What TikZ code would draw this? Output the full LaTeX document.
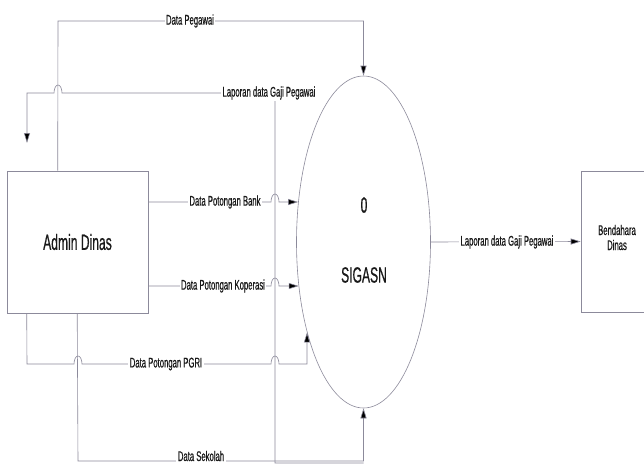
\documentclass[tikz,border=0pt]{standalone}
\usepackage{fontspec}
\usepackage{tikz}
\usetikzlibrary{shapes.geometric, positioning, arrows.meta, calc}
\newfontfamily\narrowfont[FakeStretch=0.55, FakeBold=0.6]{Liberation Sans}
\definecolor{linegray}{RGB}{140, 138, 155}
\definecolor{textblack}{RGB}{25, 25, 25}

\begin{document}
\begin{tikzpicture}[x=1pt, y=-1pt,
    flow/.style={draw=linegray, line width=0.6pt},
    arrowflow/.style={flow, -{Triangle[length=10pt, width=6pt, fill=black]}},
    lbl/.style={fill=white, inner sep=1.5pt, text=textblack, font=\narrowfont\fontsize{14}{15}\selectfont},
    bigtext/.style={text=textblack, font=\narrowfont\fontsize{22}{24}\selectfont},
    entity/.style={draw=linegray, line width=0.6pt, rectangle, inner sep=0pt}]
    \clip (0,0) rectangle (644,464);
    \fill[white] (0,0) rectangle (644,464);

    % entitas dan proses
    \node[entity, minimum width=141pt, minimum height=142pt] (admin) at (77.5,242) {};
    \node[bigtext] (adminlbl) at (77.5,242) {Admin Dinas};
    \node[draw=linegray, line width=0.6pt, ellipse, inner sep=0pt,
          minimum width=134pt, minimum height=332pt] (proc) at (363.5,242) {};
    \node[bigtext] (procnum) at (364,205) {0};
    \node[bigtext] (procname) at (364,275) {SIGASN};
    \node[entity, minimum width=72pt, minimum height=141pt] (bend) at (617,241.5) {};
    \node[lbl, fill=none, align=center, inner sep=0pt] (bendlbl) at (617,237.5) {Bendahara\\Dinas};

    % titik bantu
    \coordinate (lapend) at (27,143);
    \coordinate (lapbot) at (363.5,463);

    % Data Pegawai
    \draw[arrowflow] ([xshift=51pt]admin.north west) -- (58,21) -- (proc.north |- 0,21) -- (proc.north);
    % Laporan data Gaji Pegawai (ke admin)
    \draw[arrowflow] (lapbot) -- (275,463) -- (275,93) -- (62,93)
        arc[start angle=0, end angle=180, x radius=4pt, y radius=8pt] -- (27,93) -- (lapend);
    % Data Potongan Bank
    \coordinate (bank) at ([yshift=40pt]admin.east);
    \draw[arrowflow] (bank) -- (271,202)
        arc[start angle=180, end angle=0, x radius=4pt, y radius=8pt] -- (bank -| proc.149);
    % Data Potongan Koperasi
    \coordinate (kop) at ([yshift=-44pt]admin.east);
    \draw[arrowflow] (kop) -- (271,286)
        arc[start angle=180, end angle=0, x radius=4pt, y radius=8pt] -- (kop -| proc.215);
    % Data Potongan PGRI
    \draw[arrowflow] ([xshift=20pt]admin.south west) -- (27,364) -- (74,364)
        arc[start angle=180, end angle=0, x radius=4pt, y radius=8pt] -- (271,364)
        arc[start angle=180, end angle=0, x radius=4pt, y radius=8pt] -- (proc.238 |- 0,364) -- (proc.238);
    % Data Sekolah
    \draw[arrowflow] ([xshift=70.5pt]admin.south west) -- (78,461) -- (proc.south |- 0,461) -- (proc.south);
    % keluaran
    \draw[arrowflow] (proc.east) -- (bend.west);

    % label aliran
    \node[lbl] (lpgw) at (190,21) {Data Pegawai};
    \node[lbl] (llap) at (269,93) {Laporan data Gaji Pegawai};
    \node[lbl] (lbank) at (225,202) {Data Potongan Bank};
    \node[lbl] (lkop) at (223,286) {Data Potongan Koperasi};
    \node[lbl] (lpgri) at (166,364) {Data Potongan PGRI};
    \node[lbl] (lsek) at (201,456) {Data Sekolah};
    \node[lbl] (lout) at (507,242) {Laporan data Gaji Pegawai};
\end{tikzpicture}
\end{document}
